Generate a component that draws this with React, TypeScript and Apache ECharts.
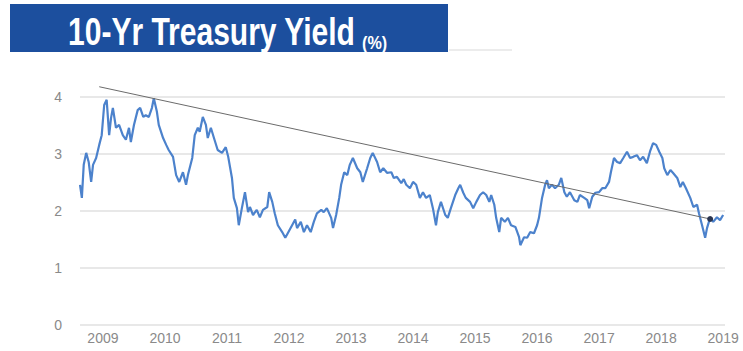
import React, { useEffect, useRef } from "react";
import * as echarts from "echarts";

// x positions in (chart) years, as spaced on the reference axis
const years: number[] = [
  2008.63, 2008.66, 2008.69, 2008.73, 2008.77, 2008.81, 2008.84, 2008.89, 2008.94, 2008.98,
  2009.02, 2009.06, 2009.10, 2009.13, 2009.16, 2009.21, 2009.26, 2009.32, 2009.37, 2009.42,
  2009.45, 2009.50, 2009.56, 2009.60, 2009.65, 2009.69, 2009.74, 2009.79, 2009.82, 2009.87,
  2009.90, 2009.97, 2010.02, 2010.06, 2010.13, 2010.18, 2010.23, 2010.29, 2010.34, 2010.37,
  2010.44, 2010.48, 2010.53, 2010.56, 2010.61, 2010.66, 2010.69, 2010.74, 2010.79, 2010.85,
  2010.92, 2010.98, 2011.02, 2011.08, 2011.11, 2011.16, 2011.19, 2011.24, 2011.29, 2011.34,
  2011.37, 2011.42, 2011.48, 2011.53, 2011.58, 2011.65, 2011.68, 2011.73, 2011.77, 2011.82,
  2011.89, 2011.94, 2011.98, 2012.05, 2012.10, 2012.13, 2012.19, 2012.24, 2012.29, 2012.35,
  2012.40, 2012.45, 2012.52, 2012.56, 2012.61, 2012.68, 2012.71, 2012.76, 2012.81, 2012.84,
  2012.89, 2012.94, 2012.98, 2013.03, 2013.10, 2013.15, 2013.19, 2013.26, 2013.31, 2013.35,
  2013.42, 2013.47, 2013.52, 2013.58, 2013.65, 2013.69, 2013.74, 2013.81, 2013.85, 2013.89,
  2013.95, 2014.00, 2014.05, 2014.11, 2014.16, 2014.21, 2014.27, 2014.32, 2014.37, 2014.40,
  2014.45, 2014.52, 2014.56, 2014.61, 2014.68, 2014.73, 2014.76, 2014.81, 2014.85, 2014.92,
  2014.97, 2015.02, 2015.08, 2015.13, 2015.18, 2015.23, 2015.26, 2015.31, 2015.34, 2015.39,
  2015.42, 2015.48, 2015.53, 2015.58, 2015.65, 2015.71, 2015.73, 2015.79, 2015.84, 2015.89,
  2015.95, 2016.00, 2016.03, 2016.08, 2016.13, 2016.16, 2016.19, 2016.24, 2016.29, 2016.35,
  2016.39, 2016.44, 2016.48, 2016.53, 2016.60, 2016.65, 2016.69, 2016.76, 2016.81, 2016.84,
  2016.89, 2016.94, 2017.00, 2017.05, 2017.10, 2017.16, 2017.19, 2017.24, 2017.29, 2017.34,
  2017.39, 2017.45, 2017.50, 2017.55, 2017.61, 2017.66, 2017.71, 2017.77, 2017.82, 2017.87,
  2017.92, 2017.97, 2018.02, 2018.05, 2018.10, 2018.15, 2018.19, 2018.26, 2018.31, 2018.35,
  2018.40, 2018.47, 2018.52, 2018.58, 2018.61, 2018.66, 2018.71, 2018.74, 2018.79, 2018.84,
  2018.90, 2018.95, 2019.00,
];

// 10-yr yield (%)
const yields: number[] = [
  2.46, 2.23, 2.81, 3.02, 2.86, 2.51, 2.81, 2.93, 3.16, 3.33,
  3.86, 3.95, 3.33, 3.63, 3.81, 3.46, 3.51, 3.33, 3.25, 3.46,
  3.21, 3.51, 3.77, 3.81, 3.65, 3.68, 3.65, 3.81, 3.98, 3.74,
  3.51, 3.28, 3.16, 3.07, 2.95, 2.63, 2.51, 2.68, 2.46, 2.63,
  2.93, 3.33, 3.46, 3.39, 3.65, 3.51, 3.28, 3.46, 3.28, 3.07,
  3.02, 3.12, 2.95, 2.58, 2.23, 2.05, 1.75, 2.05, 2.33, 1.98,
  2.07, 1.93, 2.02, 1.89, 2.02, 2.07, 2.33, 2.16, 1.96, 1.75,
  1.63, 1.53, 1.61, 1.75, 1.85, 1.70, 1.81, 1.63, 1.75, 1.63,
  1.81, 1.96, 2.02, 1.98, 2.05, 1.88, 1.70, 1.93, 2.23, 2.46,
  2.68, 2.63, 2.81, 2.93, 2.75, 2.68, 2.51, 2.75, 2.93, 3.02,
  2.86, 2.68, 2.75, 2.67, 2.68, 2.58, 2.60, 2.49, 2.56, 2.46,
  2.40, 2.51, 2.46, 2.23, 2.33, 2.23, 2.28, 2.05, 1.75, 1.98,
  2.16, 1.93, 1.88, 2.05, 2.28, 2.40, 2.46, 2.32, 2.23, 2.16,
  2.05, 2.16, 2.28, 2.33, 2.28, 2.16, 2.28, 2.11, 1.88, 1.63,
  1.88, 1.81, 1.88, 1.75, 1.72, 1.54, 1.40, 1.54, 1.53, 1.63,
  1.61, 1.75, 1.88, 2.23, 2.46, 2.54, 2.40, 2.46, 2.40, 2.46,
  2.58, 2.33, 2.25, 2.33, 2.19, 2.16, 2.28, 2.23, 2.19, 2.05,
  2.25, 2.32, 2.33, 2.40, 2.40, 2.51, 2.68, 2.93, 2.86, 2.84,
  2.93, 3.04, 2.93, 2.95, 2.98, 2.89, 2.95, 2.84, 3.04, 3.19,
  3.16, 3.04, 2.93, 2.75, 2.63, 2.72, 2.67, 2.58, 2.42, 2.51,
  2.40, 2.23, 2.07, 2.11, 1.96, 1.75, 1.53, 1.70, 1.88, 1.81,
  1.89, 1.84, 1.93,
];

// trend line endpoints
const trendYears: number[] = [2008.94, 2018.79];
const trendValues: number[] = [4.18, 1.86];

const xTickLabels: number[] = [2009, 2010, 2011, 2012, 2013, 2014, 2015, 2016, 2017, 2018, 2019];
const yTicks: number[] = [0, 1, 2, 3, 4];

const TITLE = "10-Yr Treasury Yield";
const TITLE_UNIT = "(%)";

export default function App() {
  const ref = useRef<HTMLDivElement>(null);

  useEffect(() => {
    if (!ref.current) return;
    const chart = echarts.init(ref.current, undefined, { renderer: "svg" });
    const lineData = years.map((y, i) => [y, yields[i]]);
    const trendData = trendYears.map((y, i) => ({
      value: [y, trendValues[i]],
      symbol: i === trendYears.length - 1 ? "circle" : "none",
      symbolSize: 6,
      itemStyle: { color: "#2a3550" },
    }));
    chart.setOption({
      animation: false,
      backgroundColor: "#ffffff",
      textStyle: { fontFamily: "Liberation Sans, Arial, sans-serif" },
      grid: { left: 80, right: 18, top: 97, bottom: 26, containLabel: false },
      xAxis: {
        type: "value",
        min: 2008.63,
        max: 2019.03,
        axisLine: { show: false },
        axisTick: { show: false },
        splitLine: { show: false },
        axisLabel: {
          customValues: xTickLabels,
          formatter: (v: number) => String(Math.round(v)),
          color: "#8a8a8a",
          fontSize: 14,
          margin: 6,
          fontFamily: "Liberation Sans, Arial, sans-serif",
        },
      },
      yAxis: {
        type: "value",
        min: yTicks[0],
        max: yTicks[yTicks.length - 1],
        interval: 1,
        axisLine: { show: false },
        axisTick: { show: false },
        axisLabel: {
          color: "#8a8a8a",
          fontSize: 14,
          margin: 18,
          fontFamily: "Liberation Sans, Arial, sans-serif",
        },
        splitLine: { lineStyle: { color: "#e8e8e8", width: 2 } },
      },
      series: [
        {
          type: "line",
          data: lineData,
          symbol: "none",
          lineStyle: { color: "#4c82cc", width: 2.2 },
          z: 3,
        },
        {
          type: "line",
          data: trendData,
          clip: false,
          lineStyle: { color: "#6b6b6b", width: 1 },
          z: 4,
        },
      ],
      graphic: [
        {
          type: "rect",
          shape: { x: 10, y: 4, width: 438, height: 48 },
          style: { fill: "#1c4f9e" },
        },
        {
          type: "line",
          shape: { x1: 449, y1: 50, x2: 512, y2: 50 },
          style: { stroke: "#ececec", lineWidth: 2 },
        },
        {
          type: "text",
          x: 68,
          y: 31.5,
          scaleX: 0.79,
          style: {
            text: TITLE,
            x: 0,
            y: 0,
            fill: "#ffffff",
            font: "bold 38px 'Liberation Sans', Arial, sans-serif",
            textAlign: "left",
            textVerticalAlign: "middle",
          },
        },
        {
          type: "text",
          x: 362,
          y: 42.5,
          scaleX: 0.85,
          style: {
            text: TITLE_UNIT,
            x: 0,
            y: 0,
            fill: "#ffffff",
            font: "bold 19px 'Liberation Sans', Arial, sans-serif",
            textAlign: "left",
            textVerticalAlign: "middle",
          },
        },
      ],
    });
    return () => chart.dispose();
  }, []);

  return (
    <div
      ref={ref}
      style={{ position: "fixed", left: 0, top: 0, width: 743, height: 351 }}
    />
  );
}
